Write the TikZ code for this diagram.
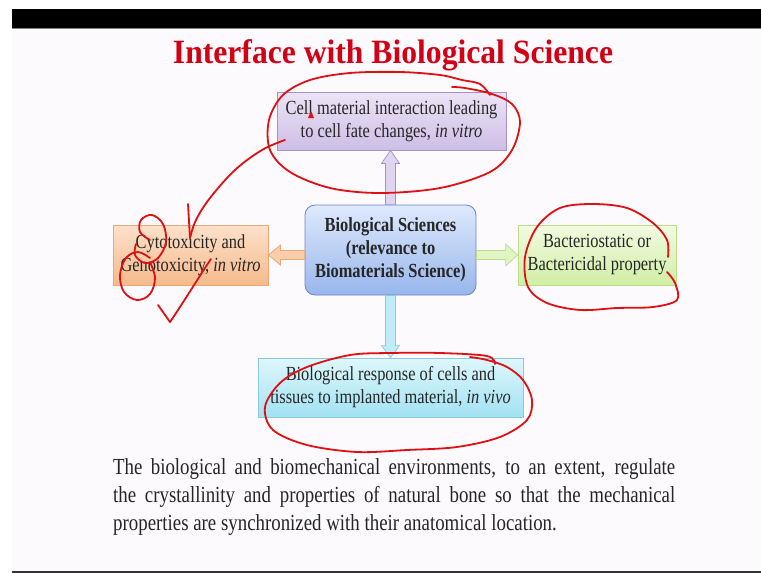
\documentclass[tikz,border=0pt]{standalone}
\usepackage{fontspec}
\setmainfont{Liberation Serif}
\newfontfamily\tnrA{Liberation Serif}[FakeStretch=0.82]
\usetikzlibrary{calc}
\definecolor{slidebg}{RGB}{252,250,253}
\definecolor{titlered}{RGB}{210,0,20}
\definecolor{inkred}{RGB}{222,16,20}
\definecolor{purT}{RGB}{236,228,246}\definecolor{purB}{RGB}{205,190,230}\definecolor{purD}{RGB}{165,145,200}
\definecolor{bluT}{RGB}{222,233,252}\definecolor{bluB}{RGB}{152,182,236}\definecolor{bluD}{RGB}{105,135,195}
\definecolor{orT}{RGB}{253,225,202}\definecolor{orB}{RGB}{246,186,140}\definecolor{orD}{RGB}{232,168,120}
\definecolor{grT}{RGB}{242,251,225}\definecolor{grB}{RGB}{208,238,165}\definecolor{grD}{RGB}{188,220,140}
\definecolor{cyT}{RGB}{222,247,252}\definecolor{cyB}{RGB}{162,226,242}\definecolor{cyD}{RGB}{140,200,222}
\tikzset{
  boxtext/.style={align=center, inner sep=0pt, font=\tnrA\fontsize{20}{23}\selectfont, text=black!85},
  box/.style={boxtext, draw, line width=0.8pt},
  ink/.style={draw=inkred, line width=1.8pt, line cap=round, line join=round},
}
\begin{document}
\begin{tikzpicture}[x=1pt,y=-1pt]
\useasboundingbox (0,0) rectangle (761,573);
% slide background and bars
\fill[slidebg] (12,9) rectangle (761,573);
\fill[black] (12,9) rectangle (761,28);
\draw[gray, line width=1pt] (12,28.5) -- (761,28.5);
\fill[black!80] (12,571) rectangle (761,573);
% title
\node[anchor=base, text=titlered, inner sep=0pt] (title) at (393,63)
  {\resizebox{440pt}{\height}{\fontsize{34}{34}\selectfont\bfseries Interface with Biological Science}};
% boxes
\node[box, draw=purD, top color=purT, bottom color=purB, minimum width=229pt, minimum height=58pt] (top) at (391.5,121)
  {Cell material interaction leading\\to cell fate changes, \textit{in vitro}};
\node[box, draw=bluD, top color=bluT, bottom color=bluB, rounded corners=10pt, minimum width=171pt, minimum height=90pt, font=\tnrA\bfseries\fontsize{20}{23}\selectfont] (ctr) at (390.5,250)
  {Biological Sciences\\(relevance to\\Biomaterials Science)};
\node[box, draw=orD, top color=orT, bottom color=orB, minimum width=155pt, minimum height=60pt] (left) at (190.5,255)
  {Cytotoxicity and\\Genotoxicity, \textit{in vitro}};
\node[box, draw=grD, top color=grT, bottom color=grB, minimum width=158pt, minimum height=60pt] (right) at (597,255)
  {Bacteriostatic or\\Bactericidal property};
\node[box, draw=cyD, top color=cyT, bottom color=cyB, minimum width=265pt, minimum height=59pt] (bot) at (390.5,387.5)
  {Biological response of cells and\\tissues to implanted material, \textit{in vivo}};
% block arrows
\draw[draw=purD, fill=purT!60!purB, line width=0.7pt] let \p1=(ctr.north), \p2=(top.south) in
  (\x1-5pt,\y1) -- (\x1-5pt,\y2-13pt) -- (\x1-9pt,\y2-13pt) -- (\x1,\y2) -- (\x1+9pt,\y2-13pt) -- (\x1+5pt,\y2-13pt) -- (\x1+5pt,\y1) -- cycle;
\draw[draw=cyD, fill=cyT!50!cyB, line width=0.7pt] let \p1=(ctr.south), \p2=(bot.north) in
  (\x1-5pt,\y1) -- (\x1-5pt,\y2+12pt) -- (\x1-9pt,\y2+12pt) -- (\x1,\y2) -- (\x1+9pt,\y2+12pt) -- (\x1+5pt,\y2+12pt) -- (\x1+5pt,\y1) -- cycle;
\draw[draw=orD, fill=orT!50!orB, line width=0.7pt] let \p1=(ctr.west), \p2=(left.east) in
  (\x1,\y2+4.5pt) -- (\x2+12pt,\y2+4.5pt) -- (\x2+12pt,\y2+10pt) -- (\x2,\y2) -- (\x2+12pt,\y2-10pt) -- (\x2+12pt,\y2-4.5pt) -- (\x1,\y2-4.5pt) -- cycle;
\draw[draw=grD, fill=grT!50!grB, line width=0.7pt] let \p1=(ctr.east), \p2=(right.west) in
  (\x1,\y2+4.5pt) -- (\x2-12pt,\y2+4.5pt) -- (\x2-12pt,\y2+11pt) -- (\x2,\y2) -- (\x2-12pt,\y2-11pt) -- (\x2-12pt,\y2-4.5pt) -- (\x1,\y2-4.5pt) -- cycle;
% paragraph
\node[anchor=base west, text width=562pt, align=justify, inner sep=0pt, font=\tnrA\fontsize{23}{28}\selectfont, text=black!85] (para) at (113,474)
  {The biological and biomechanical environments, to an extent, regulate\linebreak
   the crystallinity and properties of natural bone so that the mechanical\linebreak
   properties are synchronized with their anatomical location.};
% red hand annotations
\draw[ink] plot[smooth, tension=0.55] coordinates {(490,95) (480,84) (462,80) (440,75) (400,72) (350,73) (310,80) (283,95) (269,120) (270,150) (290,172) (330,188) (380,193) (440,188) (490,172) (512,150) (520,122) (512,104) (492,94) (465,88) (452,87)};
\draw[ink] plot[smooth, tension=0.6] coordinates {(285,140) (262,150) (235,170) (210,198) (196,220) (190,238)};
\draw[ink] (190,238) -- (188,204);
\fill[inkred] (308,118) -- (311,111) -- (314,118) -- cycle;
\draw[ink] plot[smooth, tension=0.6] coordinates {(150,240) (140,232) (141,220) (152,215) (163,224) (166,242) (158,258) (145,263) (135,255) (136,244)};
\draw[ink] plot[smooth, tension=0.6] coordinates {(150,258) (138,252) (126,258) (120,275) (124,292) (137,300) (150,294) (155,278) (150,262)};
\draw[ink] (158,305) -- (170,322) .. controls (185,300) and (200,275) .. (211,259);
\draw[ink] plot[smooth, tension=0.55] coordinates {(668,257) (667,240) (653,223) (627,208) (593,204) (560,208) (537,227) (525,257) (528,287) (547,303) (580,310) (617,308) (653,307) (677,300) (675,283) (667,272)};
\draw[ink] plot[smooth, tension=0.55] coordinates {(495,364) (487,356) (440,353) (390,353) (350,355) (307,367) (280,383) (265,407) (273,430) (307,445) (357,452) (407,450) (457,447) (500,437) (527,420) (532,400) (523,380) (507,367) (487,360) (470,357)};
\end{tikzpicture}
\end{document}
